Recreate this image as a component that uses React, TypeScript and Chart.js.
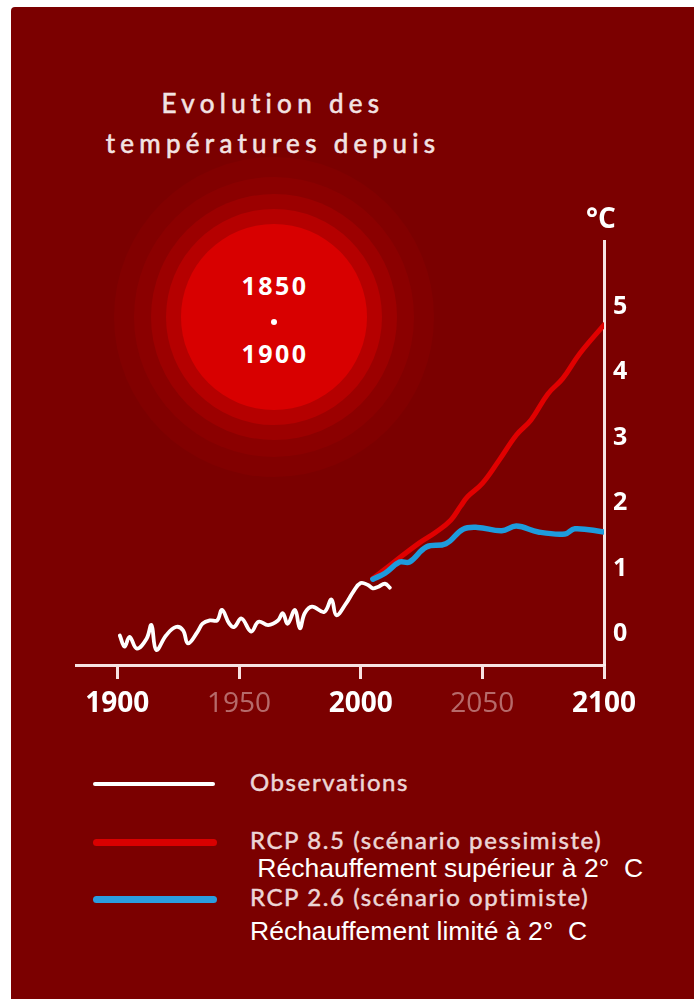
import React, { useEffect, useRef } from "react";
import { Chart, registerables } from "chart.js";

Chart.register(...registerables);

// ---- data ----
const obsYears = [1901, 1903, 1905, 1908, 1912, 1914, 1916, 1920, 1924, 1927, 1929, 1933, 1935, 1938, 1941, 1943, 1946, 1948, 1951, 1955, 1958, 1962, 1966, 1968, 1970, 1973, 1975, 1977, 1980, 1985, 1988, 1990, 1994, 1997, 2000, 2003, 2005, 2007, 2010, 2012];
const obsTemps = [-0.02, -0.19, -0.04, -0.22, -0.07, 0.14, -0.24, -0.02, 0.11, 0.06, -0.14, 0.04, 0.16, 0.21, 0.21, 0.37, 0.16, 0.11, 0.24, 0.04, 0.19, 0.14, 0.21, 0.32, 0.16, 0.37, 0.09, 0.32, 0.42, 0.34, 0.53, 0.29, 0.47, 0.65, 0.78, 0.75, 0.7, 0.72, 0.77, 0.71];

const rcp85Years = [2005, 2013, 2024, 2031, 2037, 2041, 2044, 2050, 2057, 2064, 2070, 2077, 2083, 2090, 2100];
const rcp85Temps = [0.85, 1.08, 1.39, 1.56, 1.74, 1.95, 2.1, 2.3, 2.66, 3.04, 3.27, 3.67, 3.9, 4.28, 4.72];

const rcp26Years = [2005, 2010, 2016, 2020, 2027, 2035, 2042, 2048, 2058, 2064, 2073, 2084, 2088, 2100];
const rcp26Temps = [0.84, 0.93, 1.1, 1.1, 1.33, 1.38, 1.6, 1.63, 1.58, 1.65, 1.56, 1.53, 1.61, 1.56];

const xTickYears = [1900, 1950, 2000, 2050, 2100];
const yTickValues = [0, 1, 2, 3, 4, 5];

const titleLines = ["Evolution des", "températures depuis"];
const periodLabels = ["1850", "1900"];
const unitLabel = "°C";
const legendLabels = ["Observations", "RCP 8.5 (scénario pessimiste)", "RCP 2.6 (scénario optimiste)"];
const legendNotes = [" Réchauffement supérieur à 2°\u00a0\u00a0C", "Réchauffement limité à 2°\u00a0\u00a0C"];

// ---- styles ----
const BG = "#7b0000";
const AXIS = "rgba(255,238,238,0.95)";
const RED = "#e00000";
const BLUE = "#1e9bdc";
const WHITE = "#ffffff";

const rings = [
  { r: 160, c: "#820000" },
  { r: 140, c: "#8b0000" },
  { r: 123, c: "#9c0000" },
  { r: 108, c: "#b50000" },
  { r: 93, c: "#d80000" },
];

const toPoints = (xs: number[], ys: number[]) => xs.map((x, i) => ({ x, y: ys[i] }));

function TempChart() {
  const ref = useRef<HTMLCanvasElement | null>(null);
  useEffect(() => {
    if (!ref.current) return;
    const chart = new Chart(ref.current, {
      type: "line",
      data: {
        datasets: [
          {
            label: legendLabels[2],
            data: toPoints(rcp26Years, rcp26Temps),
            borderColor: BLUE,
            borderWidth: 5.5,
            pointRadius: 0,
            tension: 0.4,
            borderCapStyle: "round",
            borderJoinStyle: "round",
          },
          {
            label: legendLabels[1],
            data: toPoints(rcp85Years, rcp85Temps),
            borderColor: RED,
            borderWidth: 5,
            pointRadius: 0,
            tension: 0.4,
            borderCapStyle: "round",
            borderJoinStyle: "round",
          },
          {
            label: legendLabels[0],
            data: toPoints(obsYears, obsTemps),
            borderColor: WHITE,
            borderWidth: 3.8,
            pointRadius: 0,
            tension: 0.4,
            borderCapStyle: "round",
            borderJoinStyle: "round",
          },
        ],
      },
      options: {
        animation: false,
        responsive: false,
        events: [],
        layout: { padding: { left: 36, top: 41, right: 0, bottom: 0 } },
        plugins: { legend: { display: false }, tooltip: { enabled: false } },
        scales: {
          x: {
            type: "linear",
            position: "bottom",
            min: 1883,
            max: 2100,
            afterBuildTicks: (s: any) => {
              s.ticks = xTickYears.map((v) => ({ value: v }));
            },
            afterFit: (s: any) => {
              s.height = 75;
            },
            grid: {
              display: true,
              drawOnChartArea: false,
              drawTicks: true,
              tickLength: 14,
              color: AXIS,
              lineWidth: 3,
            },
            border: { display: true, color: AXIS, width: 3 },
            ticks: {
              autoSkip: false,
              maxRotation: 0,
              padding: 8,
              color: (c: any) => (c.tick && c.tick.value % 100 === 0 ? "#ffffff" : "rgba(255,235,235,0.45)"),
              font: (c: any) => ({
                family: "'Open Sans'",
                weight: c.tick && c.tick.value % 100 === 0 ? "bold" : "normal",
                size: 28,
              }),
              callback: (v: any) => String(v),
            },
          },
          y: {
            type: "linear",
            position: "right",
            min: -0.47,
            max: 6,
            afterBuildTicks: (s: any) => {
              s.ticks = yTickValues.map((v) => ({ value: v }));
            },
            afterFit: (s: any) => {
              s.width = 90;
            },
            grid: { display: true, drawOnChartArea: false, drawTicks: false },
            border: { display: true, color: AXIS, width: 3 },
            ticks: {
              padding: 9,
              color: "#ffffff",
              font: { family: "'Open Sans'", weight: "bold", size: 25 },
              callback: (v: any) => String(v),
            },
          },
        },
      },
    });
    return () => chart.destroy();
  }, []);
  return (
    <canvas
      ref={ref}
      width={654}
      height={540}
      style={{ position: "absolute", left: 40, top: 200, width: 654, height: 540 }}
    />
  );
}

export default function App() {
  useEffect(() => {
    const html = document.documentElement;
    const prevBg = html.style.background;
    const prevOv = html.style.overflow;
    html.style.background = BG;
    html.style.overflow = "hidden";
    return () => {
      html.style.background = prevBg;
      html.style.overflow = prevOv;
    };
  }, []);
  const cx = 274;
  const cy = 317;
  const legendTextStyle: React.CSSProperties = {
    position: "absolute",
    left: 250,
    fontFamily: "Lato, 'Open Sans', sans-serif",
    fontSize: 24,
    lineHeight: 1,
    letterSpacing: 1.6,
    color: "#ecd6d6",
    whiteSpace: "pre",
    WebkitTextStroke: "0.5px #ecd6d6",
  };
  const noteStyle: React.CSSProperties = {
    position: "absolute",
    left: 250,
    fontFamily: "'Liberation Sans', Arial, sans-serif",
    fontSize: 26.5,
    lineHeight: 1,
    color: "#ffffff",
    whiteSpace: "pre",
  };
  const titleStyle: React.CSSProperties = {
    position: "absolute",
    left: 0,
    width: 546,
    textAlign: "center",
    fontFamily: "Lato, 'Open Sans', sans-serif",
    fontSize: 26,
    lineHeight: 1,
    letterSpacing: 5.3,
    color: "#f3e3e3",
    whiteSpace: "pre",
    WebkitTextStroke: "0.6px #f3e3e3",
  };
  const periodStyle: React.CSSProperties = {
    position: "absolute",
    left: cx - 100 + 1,
    width: 200,
    textAlign: "center",
    fontFamily: "'Open Sans', sans-serif",
    fontWeight: 700,
    fontSize: 25,
    lineHeight: 1,
    letterSpacing: 2.5,
    color: "#ffffff",
  };
  return (
    <div style={{ position: "fixed", left: 0, top: 0, width: 720, height: 1020, overflow: "hidden", background: "#ffffff" }}>
      <div style={{ position: "absolute", left: 11, top: 7, right: 0, bottom: 0, background: BG, borderTopLeftRadius: 4 }} />
      {rings.map((g, i) => (
        <div
          key={i}
          style={{
            position: "absolute",
            left: cx - g.r,
            top: cy - g.r,
            width: g.r * 2,
            height: g.r * 2,
            borderRadius: "50%",
            background: g.c,
          }}
        />
      ))}
      <div style={{ ...periodStyle, top: 273 }}>{periodLabels[0]}</div>
      <div style={{ position: "absolute", left: cx - 3, top: 319, width: 6, height: 6, borderRadius: "50%", background: "#ffffff" }} />
      <div style={{ ...periodStyle, top: 341 }}>{periodLabels[1]}</div>
      <div style={{ ...titleStyle, top: 90 }}>{titleLines[0]}</div>
      <div style={{ ...titleStyle, top: 130 }}>{titleLines[1]}</div>
      <TempChart />
      <div
        style={{
          position: "absolute",
          left: 586,
          top: 203,
          fontFamily: "'Open Sans', sans-serif",
          fontWeight: 700,
          fontSize: 28,
          lineHeight: 1,
          color: "#ffffff",
        }}
      >
        {unitLabel}
      </div>
      <div style={{ position: "absolute", left: 93, top: 782, width: 122, height: 4, borderRadius: 2, background: "#ffffff" }} />
      <div style={{ position: "absolute", left: 93, top: 838.5, width: 124, height: 7, borderRadius: 4, background: "#d90000" }} />
      <div style={{ position: "absolute", left: 93, top: 896, width: 124, height: 7, borderRadius: 4, background: "#2b9ddf" }} />
      <div style={{ ...legendTextStyle, top: 770 }}>{legendLabels[0]}</div>
      <div style={{ ...legendTextStyle, top: 828 }}>{legendLabels[1]}</div>
      <div style={{ ...legendTextStyle, top: 885 }}>{legendLabels[2]}</div>
      <div style={{ ...noteStyle, top: 855 }}>{legendNotes[0]}</div>
      <div style={{ ...noteStyle, top: 918 }}>{legendNotes[1]}</div>
    </div>
  );
}
